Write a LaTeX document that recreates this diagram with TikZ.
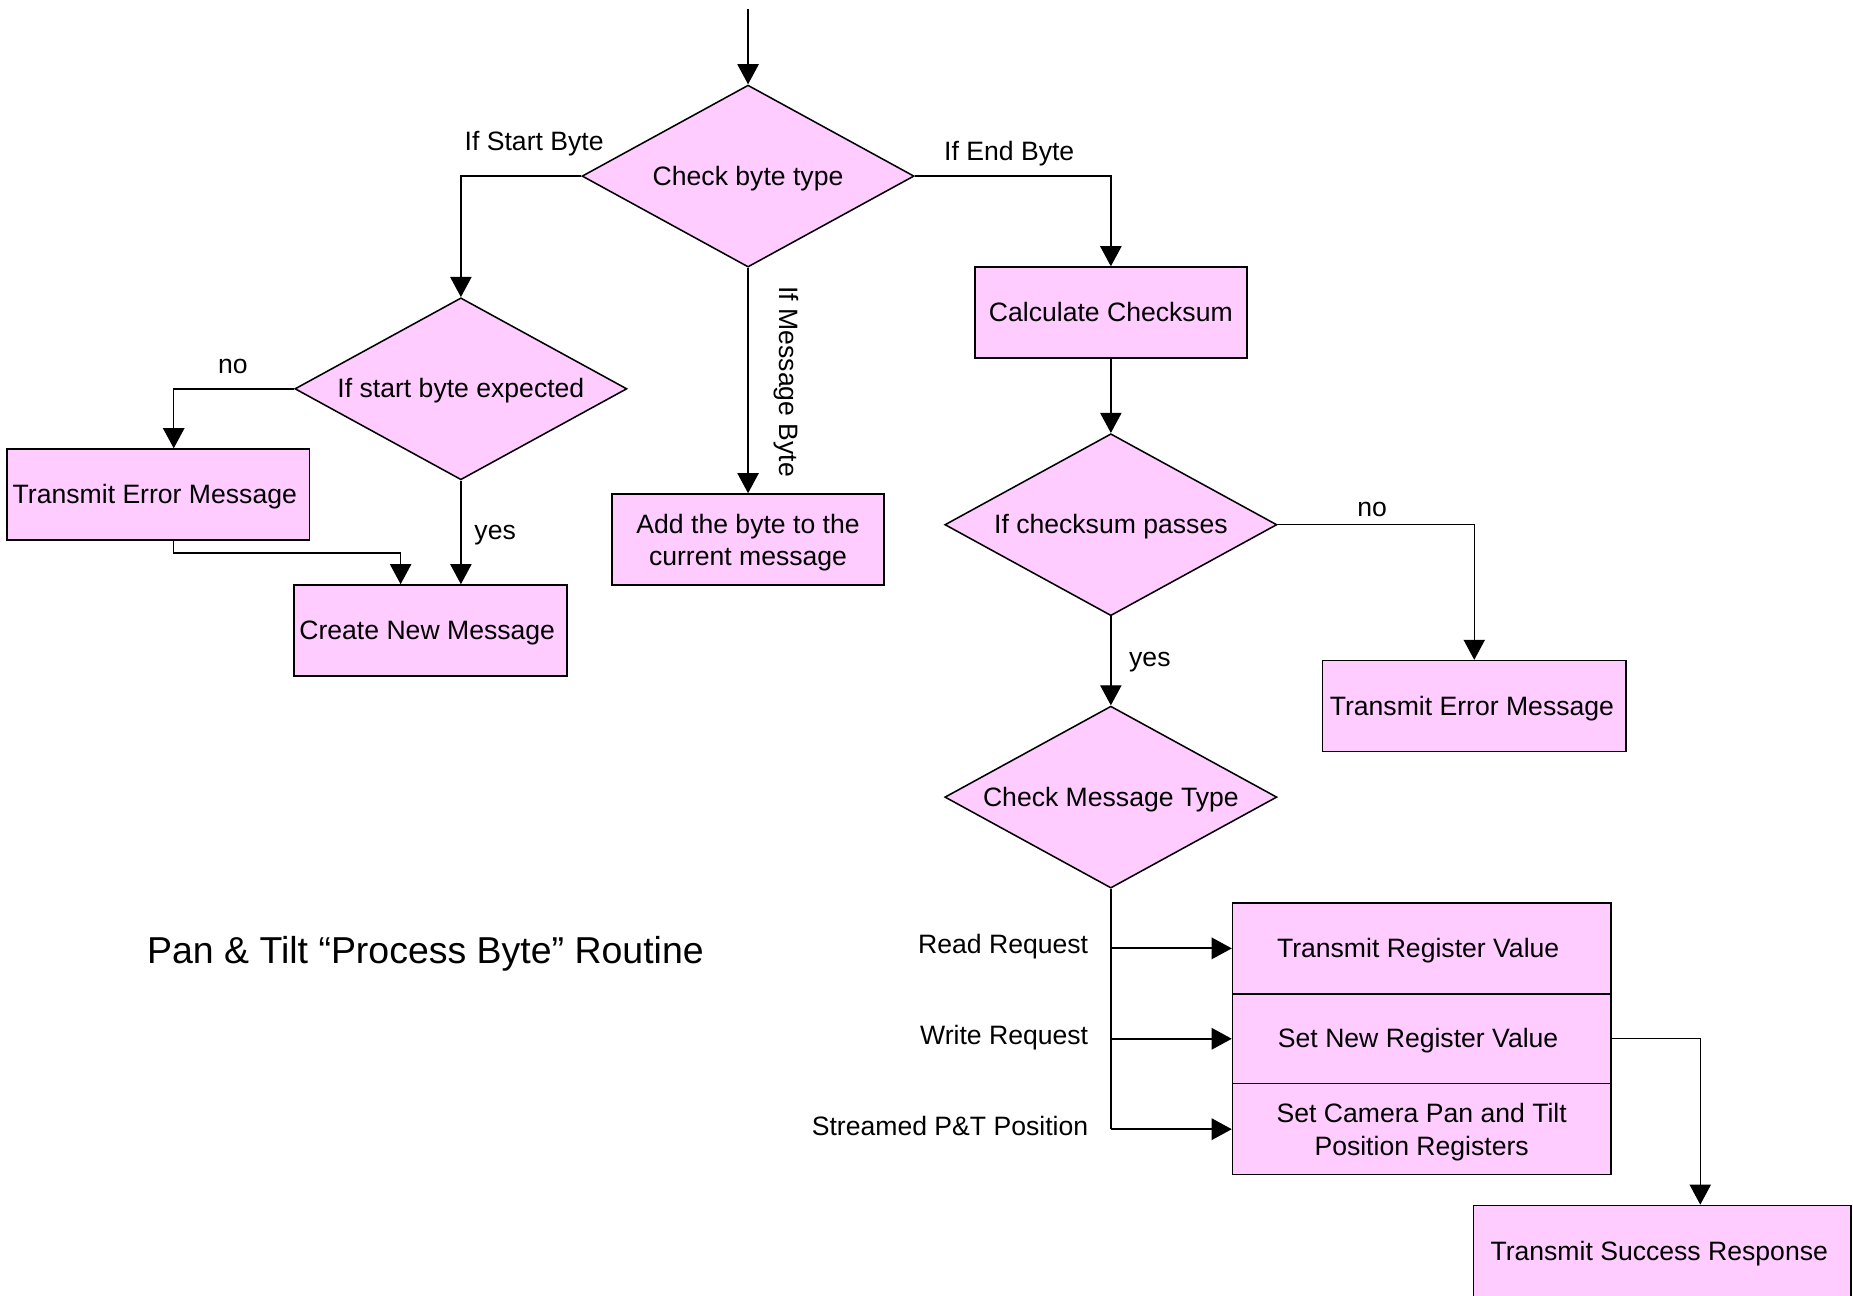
\documentclass[tikz,border=0pt]{standalone}
\usepackage{fontspec}
\setmainfont{Liberation Sans}
\usetikzlibrary{shapes.geometric,arrows.meta,calc}
\definecolor{boxpink}{HTML}{FFCCFF}
\begin{document}
\begin{tikzpicture}[x=1pt,y=-1pt,
  every node/.style={font=\fontsize{22.5}{27.5}\selectfont},
  one/.style={text height=18pt,text depth=2.6pt},
  two/.style={text height=48pt,text depth=3.6pt},
  proc/.style={draw=black,fill=boxpink,rectangle,line width=1.3pt,inner sep=0pt,align=center},
  decis/.style={draw=black,fill=boxpink,diamond,line width=1.3pt,inner sep=0pt,aspect=1.825,minimum width=281pt,minimum height=154pt,one},
  arr/.style={line width=1.2pt,-{Triangle[length=17pt,width=18pt]}},
  plain/.style={line width=1.2pt},
  lbl/.style={inner sep=0pt,one}
]
\useasboundingbox (0,0) rectangle (1568,1096);
\fill[white] (0,0) rectangle (1568,1096);

% nodes
\node[decis] (d1) at (633,149) {Check byte type};
\node[decis] (d2) at (390,329) {If start byte expected};
\node[proc,one,minimum width=256pt,minimum height=77pt] (tem1) at (134,418.5) {Transmit Error Message\hspace*{6pt}};
\node[proc,one,minimum width=231pt,minimum height=77pt] (cnm) at (364.5,533.5) {Create New Message\hspace*{6pt}};
\node[proc,two,minimum width=230pt,minimum height=77pt] (atb) at (633,456.5) {Add the byte to the\\current message};
\node[proc,one,minimum width=230pt,minimum height=77pt] (cc) at (940,264.5) {Calculate Checksum};
\node[decis] (d3) at (940,444) {If checksum passes};
\node[proc,one,minimum width=257pt,minimum height=77pt] (tem2) at (1247.5,597.5) {Transmit Error Message\hspace*{4pt}};
\node[decis] (d4) at (940,674.5) {Check Message Type};
\node[proc,one,minimum width=320pt,minimum height=77pt] (trv) at (1203,802.5) {Transmit Register Value\hspace*{6pt}};
\node[proc,one,minimum width=320pt,minimum height=76pt] (snrv) at (1203,879) {Set New Register Value\hspace*{6pt}};
\node[proc,two,minimum width=320pt,minimum height=77pt] (scp) at (1203,955.5) {Set Camera Pan and Tilt\\Position Registers};
\node[proc,minimum width=319.5pt,minimum height=84pt] (tsr) at (1406.75,1062) {};
\node[lbl] (tsrtext) at (1404,1059) {Transmit Success Response};

% labels
\node[lbl] (l1) at (452,120) {If Start Byte};
\node[lbl] (l2) at (854,128) {If End Byte};
\node[lbl] (l3) at (197,308) {no};
\node[lbl] (l4) at (419,449) {yes};
\node[inner sep=0pt,rotate=-90] (l5) at (665,323) {If Message Byte};
\node[lbl] (l6) at (1161,429) {no};
\node[lbl] (l7) at (973,556) {yes};
\node[lbl,anchor=east] (l8) at (921,799) {Read Request};
\node[lbl,anchor=east] (l9) at (921,876) {Write Request};
\node[lbl,anchor=east] (l10) at (921,953) {Streamed P\&T Position};
\node[inner sep=0pt,font=\fontsize{31.7}{36}\selectfont,text height=25pt,text depth=3pt] (title) at (360,804) {Pan \& Tilt “Process Byte” Routine};

% connectors
\coordinate (start) at (633,8);
\coordinate (k1) at (147,329);
\coordinate (k2) at (339,468);
\draw[arr] (start) -- (d1.north);
\draw[arr] (d1.west) -| (d2.north);
\draw[arr] (d1.east) -| (cc.north);
\draw[arr] (d1.south) -- (atb.north);
\draw[arr] (d2.west) -- (k1) -- (k1 |- tem1.north);
\draw[arr] (k1 |- tem1.south) |- (k2) -- (k2 |- cnm.north);
\draw[arr] (d2.south) -- (d2.south |- cnm.north);
\draw[arr] (cc.south) -- (d3.north);
\draw[arr] (d3.east) -| (tem2.north);
\draw[arr] (d3.south) -- (d4.north);
\draw[plain] (d4.south) -- (d4.south |- scp.west);
\draw[arr,line width=1.8pt] (d4.south |- trv.west) -- (trv.west);
\draw[arr,line width=1.8pt] (d4.south |- snrv.west) -- (snrv.west);
\draw[arr,line width=1.8pt] (d4.south |- scp.west) -- (scp.west);
\draw[arr] (snrv.east) -| ([xshift=32pt]tsr.north);
\end{tikzpicture}
\end{document}
